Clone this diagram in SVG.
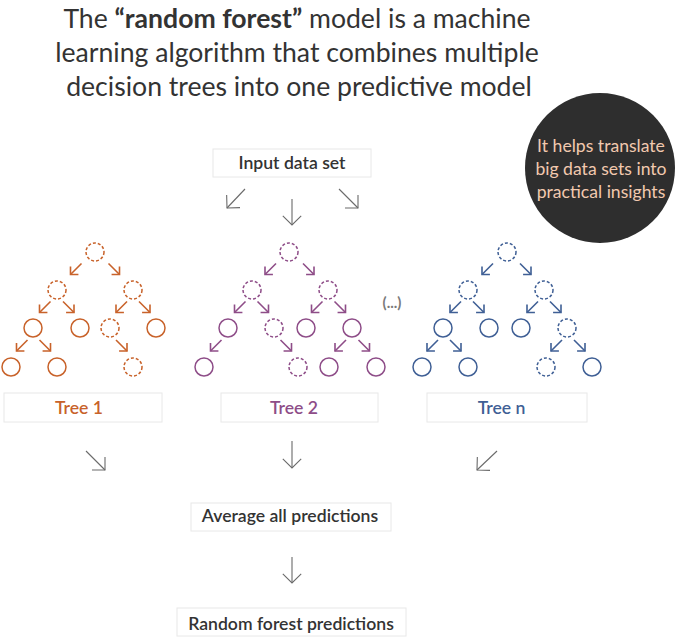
<svg xmlns="http://www.w3.org/2000/svg" width="677" height="637" viewBox="0 0 677 637">
<style>
.title{font-family:Lato,"Open Sans","Liberation Sans",sans-serif;font-size:26.6px;fill:#333;text-anchor:middle}
.title .b{font-weight:700}
.box{fill:#fff;stroke:#e8e8e8;stroke-width:1}
.lbl{font-family:Lato,"Open Sans","Liberation Sans",sans-serif;font-size:17.6px;font-weight:600;fill:#333;text-anchor:middle}
.note{font-family:Lato,"Open Sans","Liberation Sans",sans-serif;font-size:17.6px;fill:#f2c9ae;text-anchor:middle}
.n{fill:#fff;stroke-width:1.5}
.d{stroke-dasharray:3 2}
.o{stroke:#c8622a}
.p{stroke:#8e4d88}
.bl{stroke:#3f5f95}
.ga{stroke:#6a6a6a;stroke-width:1.1;fill:none;marker-end:url(#mg)}
.ao{stroke:#c8622a;stroke-width:1.6;fill:none;marker-end:url(#mo)}
.ap{stroke:#8e4d88;stroke-width:1.6;fill:none;marker-end:url(#mp)}
.ab{stroke:#3f5f95;stroke-width:1.6;fill:none;marker-end:url(#mb)}
</style>
<defs>
<marker id="mg" markerUnits="userSpaceOnUse" viewBox="-15 -15 30 30" markerWidth="30" markerHeight="30" refX="0" refY="0" orient="auto" overflow="visible"><path d="M-9.2,-9.2 L0,0 L-9.2,9.2" fill="none" stroke="#6a6a6a" stroke-width="1.1"/></marker>
<marker id="mo" markerUnits="userSpaceOnUse" viewBox="-10 -10 20 20" markerWidth="20" markerHeight="20" refX="0" refY="0" orient="auto" overflow="visible"><path d="M-5.6,-5.6 L0,0 L-5.6,5.6" fill="none" stroke="#c8622a" stroke-width="1.6"/></marker>
<marker id="mp" markerUnits="userSpaceOnUse" viewBox="-10 -10 20 20" markerWidth="20" markerHeight="20" refX="0" refY="0" orient="auto" overflow="visible"><path d="M-5.6,-5.6 L0,0 L-5.6,5.6" fill="none" stroke="#8e4d88" stroke-width="1.6"/></marker>
<marker id="mb" markerUnits="userSpaceOnUse" viewBox="-10 -10 20 20" markerWidth="20" markerHeight="20" refX="0" refY="0" orient="auto" overflow="visible"><path d="M-5.6,-5.6 L0,0 L-5.6,5.6" fill="none" stroke="#3f5f95" stroke-width="1.6"/></marker>
</defs>
<rect width="677" height="637" fill="#fff"/>
<g id="title">
<text class="title" x="297" y="28">The <tspan class="b">“random forest”</tspan> model is a machine</text>
<text class="title" x="297" y="62">learning algorithm that combines multiple</text>
<text class="title" x="299" y="96">decision trees into one predictive model</text>
</g>
<g id="note">
<circle cx="600" cy="168" r="75" fill="#2e2e2e"/>
<text class="note" x="601" y="152">It helps translate</text>
<text class="note" x="601" y="175">big data sets into</text>
<text class="note" x="601" y="198">practical insights</text>
</g>
<g id="input">
<rect class="box" x="213" y="149" width="158" height="28"/>
<text class="lbl" x="292" y="169">Input data set</text>
</g>
<g id="tree1">
<circle class="n o d" cx="95" cy="252" r="9"/>
<circle class="n o d" cx="57" cy="290" r="9"/>
<circle class="n o d" cx="133" cy="290" r="9"/>
<circle class="n o" cx="33" cy="328" r="9"/>
<circle class="n o" cx="80" cy="328" r="9"/>
<circle class="n o d" cx="110" cy="328" r="9"/>
<circle class="n o" cx="156" cy="328" r="9"/>
<circle class="n o" cx="11" cy="367" r="9"/>
<circle class="n o" cx="57" cy="367" r="9"/>
<circle class="n o d" cx="133" cy="367" r="9"/>
<path class="ao" d="M81.5,263.5L70.5,274.5"/>
<path class="ao" d="M108.5,263.5L119.5,274.5"/>
<path class="ao" d="M50.5,301.5L39.5,312.5"/>
<path class="ao" d="M63,301.5L74,312.5"/>
<path class="ao" d="M127,301.5L116,312.5"/>
<path class="ao" d="M139,301.5L150,312.5"/>
<path class="ao" d="M27.5,340L16.5,351"/>
<path class="ao" d="M39.5,340L50.5,351"/>
<path class="ao" d="M116,340L127,351"/>
</g>
<g id="tree2">
<circle class="n p d" cx="289" cy="252" r="9"/>
<circle class="n p d" cx="252" cy="290" r="9"/>
<circle class="n p d" cx="328" cy="290" r="9"/>
<circle class="n p" cx="228" cy="328" r="9"/>
<circle class="n p d" cx="274" cy="328" r="9"/>
<circle class="n p" cx="306" cy="328" r="9"/>
<circle class="n p" cx="352" cy="328" r="9"/>
<circle class="n p" cx="204" cy="367" r="9"/>
<circle class="n p d" cx="298" cy="367" r="9"/>
<circle class="n p" cx="329" cy="367" r="9"/>
<circle class="n p" cx="376" cy="367" r="9"/>
<path class="ap" d="M276,263.5L265,274.5"/>
<path class="ap" d="M303,263.5L314,274.5"/>
<path class="ap" d="M245.5,301.5L234.5,312.5"/>
<path class="ap" d="M257.5,301.5L268.5,312.5"/>
<path class="ap" d="M322.5,301.5L311.5,312.5"/>
<path class="ap" d="M334.5,301.5L345.5,312.5"/>
<path class="ap" d="M221.5,340L210.5,351"/>
<path class="ap" d="M280.5,340L291.5,351"/>
<path class="ap" d="M346,340L335,351"/>
<path class="ap" d="M358.5,340L369.5,351"/>
</g>
<g id="ellipsis">
<text x="392" y="308" font-family="Lato,'Open Sans',sans-serif" font-size="15" font-weight="700" fill="#7a7a7a" text-anchor="middle">(...)</text>
</g>
<g id="treen">
<circle class="n bl d" cx="507" cy="252" r="9"/>
<circle class="n bl d" cx="468" cy="290" r="9"/>
<circle class="n bl d" cx="544" cy="290" r="9"/>
<circle class="n bl" cx="443" cy="328" r="9"/>
<circle class="n bl" cx="489" cy="328" r="9"/>
<circle class="n bl" cx="521" cy="328" r="9"/>
<circle class="n bl d" cx="567" cy="328" r="9"/>
<circle class="n bl" cx="422" cy="367" r="9"/>
<circle class="n bl" cx="468" cy="367" r="9"/>
<circle class="n bl d" cx="546" cy="367" r="9"/>
<circle class="n bl" cx="592" cy="367" r="9"/>
<path class="ab" d="M493,263.5L482,274.5"/>
<path class="ab" d="M520,263.5L531,274.5"/>
<path class="ab" d="M461,301.5L450,312.5"/>
<path class="ab" d="M473,301.5L484,312.5"/>
<path class="ab" d="M538,301.5L527,312.5"/>
<path class="ab" d="M550,301.5L561,312.5"/>
<path class="ab" d="M438,340L427,351"/>
<path class="ab" d="M450,340L461,351"/>
<path class="ab" d="M562,340L551,351"/>
<path class="ab" d="M574,340L585,351"/>
</g>
<g id="tree1-label">
<rect class="box" x="4" y="393" width="158" height="29"/>
<text class="lbl" x="79" y="414" style="fill:#c8622a">Tree 1</text>
</g>
<g id="tree2-label">
<rect class="box" x="221" y="393" width="157" height="29"/>
<text class="lbl" x="294" y="414" style="fill:#8e4d88">Tree 2</text>
</g>
<g id="treen-label">
<rect class="box" x="427" y="393" width="160" height="29"/>
<text class="lbl" x="501.5" y="414" style="fill:#3f5f95">Tree n</text>
</g>
<g id="average">
<rect class="box" x="191" y="503" width="200" height="28"/>
<text class="lbl" x="290" y="522">Average all predictions</text>
</g>
<g id="result">
<rect class="box" x="177" y="608" width="229" height="28"/>
<text class="lbl" x="291" y="630">Random forest predictions</text>
</g>
<g id="connectors">
<path class="ga" d="M245,189L227,208"/>
<path class="ga" d="M292,199L292,225"/>
<path class="ga" d="M339,189L358,208"/>
<path class="ga" d="M86,451L105,470"/>
<path class="ga" d="M292,441L292,468"/>
<path class="ga" d="M497,451L477,470"/>
<path class="ga" d="M292,557L292,583"/>
</g>
</svg>
